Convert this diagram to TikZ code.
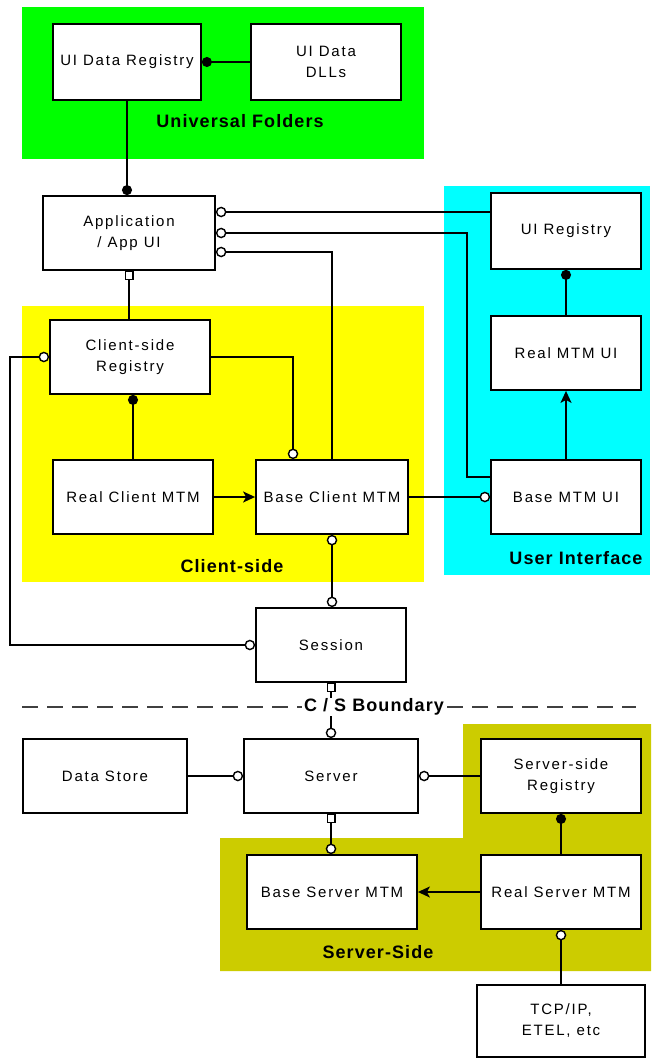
\documentclass[tikz,border=0pt]{standalone}
\usepackage{fontspec}
\setmainfont{Liberation Sans}
\newfontfamily\boxfont[LetterSpace=12]{Liberation Sans}
\newfontfamily\labfont[LetterSpace=6]{Liberation Sans}
\usetikzlibrary{arrows.meta}

\definecolor{ufgreen}{HTML}{00FF00}
\definecolor{uicyan}{HTML}{00FFFF}
\definecolor{csyellow}{HTML}{FFFF00}
\definecolor{ssolive}{HTML}{CCCC00}

\tikzset{
  box/.style={draw, fill=white, line width=1.8pt, inner sep=0pt, align=center,
    font=\boxfont\fontsize{15}{21}\selectfont},
  grouplabel/.style={font=\labfont\bfseries\fontsize{18}{20}\selectfont, inner sep=1pt},
  conn/.style={line width=1.7pt},
  dotend/.tip={Circle[length=10pt,width=10pt]},
  sockt/.tip={Circle[length=10.5pt,width=10.5pt,fill=white,line width=1.4pt]},
  sqend/.tip={Square[length=9pt,width=9pt,fill=white,line width=1.4pt]},
  arr/.tip={Stealth[length=12pt,width=11pt,inset=3pt]},
}

\begin{document}
\begin{tikzpicture}[x=1pt,y=-1pt]
\useasboundingbox (0,0) rectangle (653,1059);
\fill[white] (0,0) rectangle (653,1059);

% coloured group areas
\fill[ufgreen]  (22,7) rectangle (424,159);
\fill[uicyan]   (444,186) rectangle (650,575);
\fill[csyellow] (22,306) rectangle (424,582);
\fill[ssolive]  (463,724) -- (651,724) -- (651,971) -- (220,971) -- (220,838) -- (463,838) -- cycle;

% group titles
\node[grouplabel] (lufold) at (240,121) {Universal Folders};
\node[grouplabel] (luser)  at (576,558) {User Interface};
\node[grouplabel] (lclient) at (232,566) {Client-side};
\node[grouplabel] (lserver) at (378,952) {Server-Side};

% components
\node[box, minimum width=148pt, minimum height=76pt] (udr) at (127,62) {UI Data Registry};
\node[box, minimum width=150pt, minimum height=76pt] (dll) at (326,62) {UI Data\\DLLs};
\node[box, minimum width=172pt, minimum height=74pt] (app) at (129,233) {Application\\/ App UI};
\node[box, minimum width=150pt, minimum height=76pt] (uireg) at (566,231) {UI Registry};
\node[box, minimum width=150pt, minimum height=74pt] (realui) at (566,353) {Real MTM UI};
\node[box, minimum width=150pt, minimum height=74pt] (baseui) at (566,497) {Base MTM UI};
\node[box, minimum width=160pt, minimum height=74pt] (csreg) at (130,357) {Client-side\\Registry};
\node[box, minimum width=160pt, minimum height=74pt] (rcm) at (133,497) {Real Client MTM};
\node[box, minimum width=152pt, minimum height=74pt] (bcm) at (332,497) {Base Client MTM};
\node[box, minimum width=150pt, minimum height=74pt] (session) at (331,645) {Session};
\node[box, minimum width=164pt, minimum height=74pt] (dstore) at (105,776) {Data Store};
\node[box, minimum width=174pt, minimum height=74pt] (server) at (331,776) {Server};
\node[box, minimum width=160pt, minimum height=74pt] (ssreg) at (561,776) {Server-side\\Registry};
\node[box, minimum width=170pt, minimum height=74pt] (bsm) at (332,892) {Base Server MTM};
\node[box, minimum width=160pt, minimum height=74pt] (rsm) at (561,892) {Real Server MTM};
\node[box, minimum width=168pt, minimum height=72pt] (tcp) at (561,1021) {TCP/IP,\\ETEL, etc};

% routing points
\coordinate (k2) at (467,477);
\coordinate (k6) at (293,0);
\coordinate (lft) at (10,0);
\coordinate (bl) at (22,707);
\coordinate (br) at (636,707);

% connectors
\draw[conn,-{dotend}] (dll.west) -- (udr.east);
\draw[conn,-{dotend}] (udr.south) -- (udr.south |- app.north);
\draw[conn,{sockt}-] ([yshift=21pt]app.east) -- ([yshift=21pt]app.east -| uireg.west);
\draw[conn,{sockt}-] (app.east) -| (k2) -- (k2 -| baseui.west);
\draw[conn,{sockt}-] ([yshift=-19pt]app.east) -| (bcm.north);
\draw[conn,{sqend}-] (app.south) -- (app.south |- csreg.north);
\draw[conn,{sockt}-{sockt}] (csreg.west) -- (csreg.west -| lft) -- (lft |- session.west) -- (session.west);
\draw[conn,-{sockt}] (csreg.east) -| (k6 |- bcm.north);
\draw[conn,-{dotend}] (rcm.north) -- (rcm.north |- csreg.south);
\draw[conn,-{arr}] (rcm.east) -- (bcm.west);
\draw[conn,-{sockt}] (bcm.east) -- (baseui.west);
\draw[conn,{sockt}-{sockt}] (bcm.south) -- (bcm.south |- session.north);
\draw[conn,-{dotend}] (realui.north) -- (uireg.south);
\draw[conn,-{arr}] (baseui.north) -- (realui.south);

% client / server boundary
\draw[line width=1.6pt, dash pattern=on 16pt off 9pt, black!75] (bl) -- (br);
\draw[conn,{sqend}-{sockt}] (session.south) -- (session.south |- server.north);
\node[grouplabel, fill=white, inner xsep=2pt] (csb) at (374,707) {C / S Boundary};

\draw[conn,-{sockt}] (dstore.east) -- (server.west);
\draw[conn,{sockt}-] (server.east) -- (ssreg.west);
\draw[conn,{sqend}-{sockt}] (server.south) -- (server.south |- bsm.north);
\draw[conn,-{dotend}] (rsm.north) -- (ssreg.south);
\draw[conn,-{arr}] (rsm.west) -- (bsm.east);
\draw[conn,{sockt}-] (rsm.south) -- (tcp.north);
\end{tikzpicture}
\end{document}
